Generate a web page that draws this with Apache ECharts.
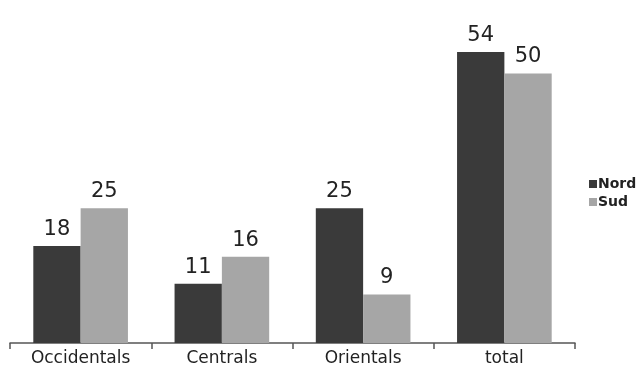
<!DOCTYPE html>
<html>
<head>
<meta charset="utf-8">
<script src="https://cdn.jsdelivr.net/npm/echarts@6/dist/echarts.min.js"></script>
<style>
  html, body { margin: 0; padding: 0; background: #fff; }
  #chart { width: 641px; height: 370px; }
</style>
</head>
<body>
<div id="chart"></div>
<script>
// données du graphique
const categories = ["Occidentals", "Centrals", "Orientals", "total"];
const nordValues = [18, 11, 25, 54];
const sudValues = [25, 16, 9, 50];

const chart = echarts.init(document.querySelector("#chart"));
chart.setOption({
  animation: false,
  textStyle: { fontFamily: "DejaVu Sans" },
  grid: { left: 10, right: 66, top: 19.6, bottom: 27 },
  legend: {
    orient: "vertical",
    left: 584,
    top: 172,
    itemWidth: 8,
    itemHeight: 8,
    itemGap: 4,
    icon: "rect",
    textStyle: { fontSize: 14, fontWeight: "bold", color: "#222", padding: [0, 0, 0, -4] },
    data: ["Nord", "Sud"],
  },
  xAxis: {
    type: "category",
    data: categories,
    axisLine: { lineStyle: { color: "#555", width: 1.5 } },
    axisTick: { show: true, alignWithLabel: false, length: 6, lineStyle: { color: "#555", width: 1.5 } },
    axisLabel: { fontSize: 17, color: "#222", margin: 7 },
  },
  yAxis: {
    type: "value",
    min: 0,
    max: 60,
    show: false,
    splitLine: { show: false },
  },
  series: [
    {
      name: "Nord",
      type: "bar",
      data: nordValues,
      barGap: "0%",
      barCategoryGap: "33%",
      itemStyle: { color: "#3a3a3a" },
      label: { show: true, position: "top", distance: 6, fontSize: 21, color: "#222" },
    },
    {
      name: "Sud",
      type: "bar",
      data: sudValues,
      itemStyle: { color: "#a6a6a6" },
      label: { show: true, position: "top", distance: 6, fontSize: 21, color: "#222" },
    },
  ],
});
</script>
</body>
</html>
